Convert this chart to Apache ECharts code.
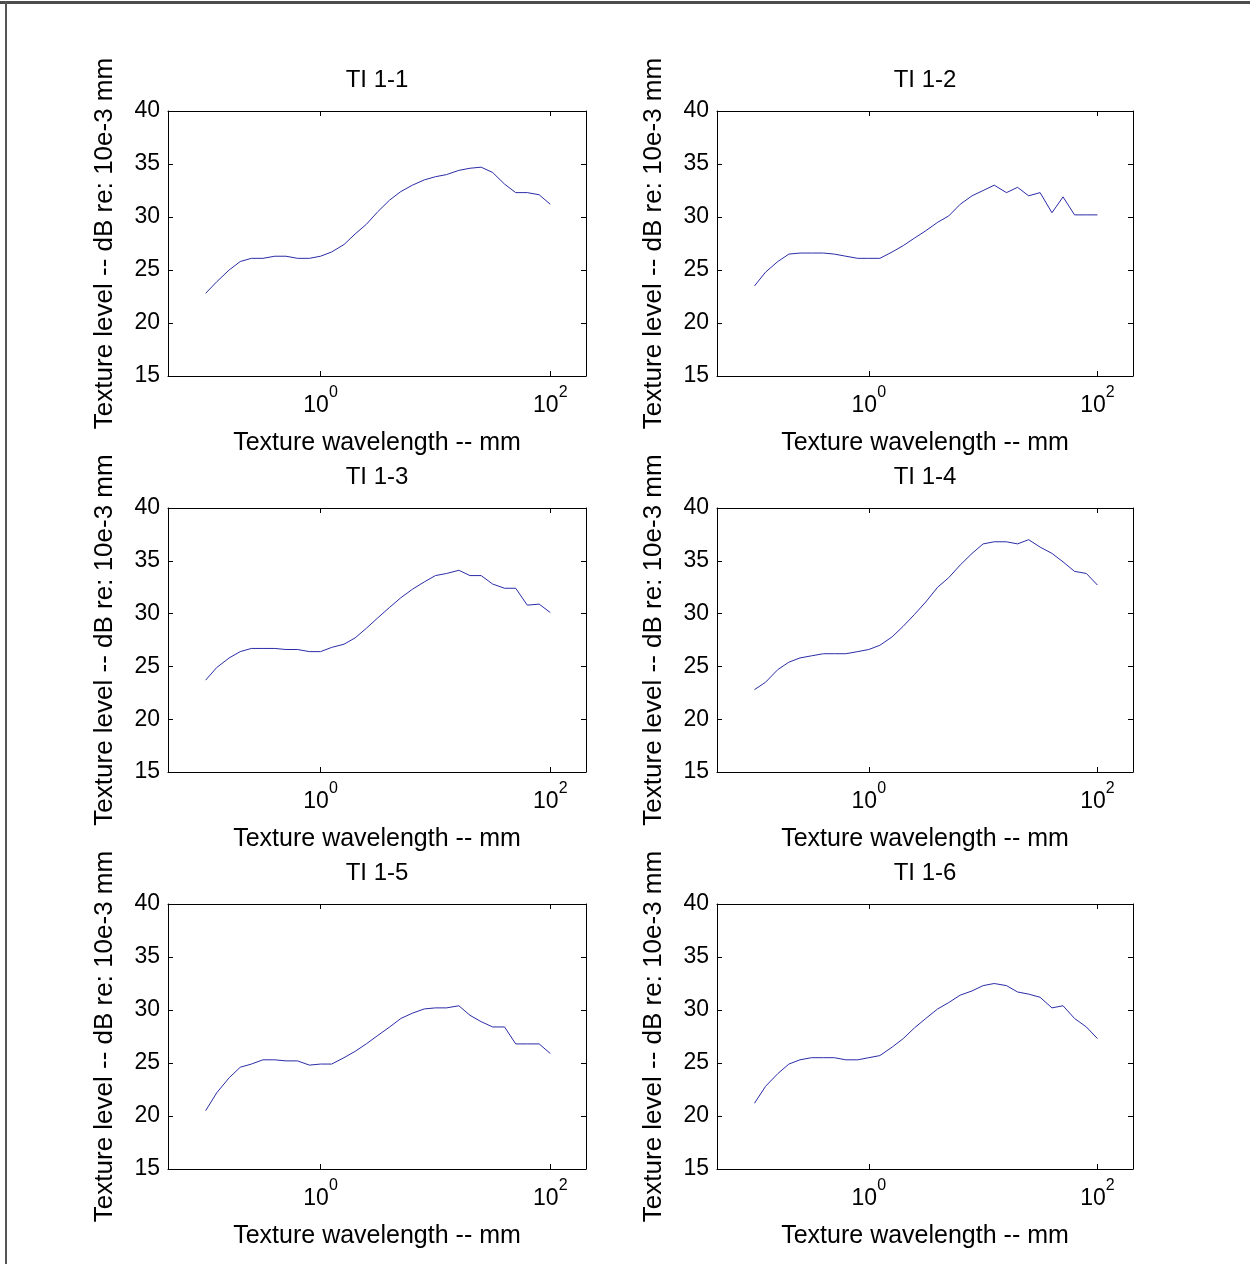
<!DOCTYPE html>
<html>
<head>
<meta charset="utf-8">
<style>
  html, body { margin: 0; padding: 0; background: #fff; }
  #chart { width: 1250px; height: 1264px; }
</style>
<script src="https://cdn.jsdelivr.net/npm/echarts@6/dist/echarts.min.js"></script>
</head>
<body>
<div id="chart"></div>
<script>
// Third-octave band texture wavelengths (mm)
const wavelengths = [0.1, 0.125, 0.16, 0.2, 0.25, 0.315, 0.4, 0.5, 0.63, 0.8,
  1, 1.25, 1.6, 2, 2.5, 3.15, 4, 5, 6.3, 8,
  10, 12.5, 16, 20, 25, 31.5, 40, 50, 63, 80, 100];

// Texture level spectra, dB re: 10e-3 mm
const ti11 = [22.8, 23.9, 25.0, 25.8, 26.1, 26.1, 26.3, 26.3, 26.1, 26.1,
  26.3, 26.7, 27.4, 28.4, 29.3, 30.5, 31.6, 32.4, 33.0, 33.5,
  33.8, 34.0, 34.4, 34.6, 34.7, 34.2, 33.1, 32.3, 32.3, 32.1, 31.2];
const ti12 = [23.5, 24.8, 25.8, 26.5, 26.6, 26.6, 26.6, 26.5, 26.3, 26.1,
  26.1, 26.1, 26.7, 27.3, 28.0, 28.7, 29.5, 30.1, 31.2, 32.0,
  32.5, 33.0, 32.3, 32.8, 32.0, 32.3, 30.4, 31.9, 30.2, 30.2, 30.2];
const ti13 = [23.7, 24.9, 25.8, 26.4, 26.7, 26.7, 26.7, 26.6, 26.6, 26.4,
  26.4, 26.8, 27.1, 27.7, 28.6, 29.6, 30.6, 31.5, 32.3, 33.0,
  33.6, 33.8, 34.1, 33.6, 33.6, 32.8, 32.4, 32.4, 30.8, 30.9, 30.1];
const ti14 = [22.8, 23.5, 24.7, 25.4, 25.8, 26.0, 26.2, 26.2, 26.2, 26.4,
  26.6, 27.0, 27.8, 28.8, 29.9, 31.1, 32.5, 33.4, 34.6, 35.7,
  36.6, 36.8, 36.8, 36.6, 37.0, 36.3, 35.7, 34.9, 34.0, 33.8, 32.7];
const ti15 = [20.5, 22.2, 23.6, 24.6, 24.9, 25.3, 25.3, 25.2, 25.2, 24.8,
  24.9, 24.9, 25.5, 26.1, 26.8, 27.6, 28.4, 29.2, 29.7, 30.1,
  30.2, 30.2, 30.4, 29.5, 28.9, 28.4, 28.4, 26.8, 26.8, 26.8, 25.9];
const ti16 = [21.2, 22.8, 24.0, 24.9, 25.3, 25.5, 25.5, 25.5, 25.3, 25.3,
  25.5, 25.7, 26.5, 27.3, 28.3, 29.2, 30.1, 30.7, 31.4, 31.8,
  32.3, 32.5, 32.3, 31.7, 31.5, 31.2, 30.2, 30.4, 29.2, 28.4, 27.3];

const panelTitles = ['TI 1-1', 'TI 1-2', 'TI 1-3', 'TI 1-4', 'TI 1-5', 'TI 1-6'];
const panelSeries = [ti11, ti12, ti13, ti14, ti15, ti16];

const yTicks = { min: 15, max: 40, interval: 5 };
const xLabelValues = [1, 100];
const xRange = { min: 0.047, max: 204.6 };

const xName = 'Texture wavelength -- mm';
const yName = 'Texture level -- dB re: 10e-3 mm';

// Panel frames: 3 rows x 2 columns
const colLeft = [168, 717];
const colWidth = [418, 416];
const rowTop = [111, 508, 904];
const rowHeight = [265, 264, 265];

const FONT = '"Liberation Sans", Arial, Helvetica, sans-serif';
const INK = '#000';

function expLabel(v) {
  const e = Math.round(Math.log10(v));
  return '{b|10}{s|' + e + '}';
}

const grids = [], xAxes = [], yAxes = [], series = [], titles = [];

panelSeries.forEach(function (vals, i) {
  const col = i % 2, row = Math.floor(i / 2);
  const left = colLeft[col], top = rowTop[row];
  const width = colWidth[col], height = rowHeight[row];
  grids.push({ left: left, top: top, width: width, height: height, containLabel: false });

  const lineStyle = { show: true, lineStyle: { color: INK, width: 1 } };
  const tickStyle = { show: true, inside: true, length: 5, lineStyle: { color: INK, width: 1 } };

  // bottom x axis with labels
  xAxes.push({
    type: 'log', logBase: 10, gridIndex: i, position: 'bottom',
    min: xRange.min, max: xRange.max,
    axisLine: lineStyle,
    axisTick: Object.assign({ customValues: xLabelValues }, tickStyle),
    minorTick: { show: false },
    splitLine: { show: false },
    axisLabel: {
      customValues: xLabelValues, margin: 9,
      formatter: expLabel,
      rich: {
        b: { fontFamily: FONT, fontSize: 23, color: INK, padding: [9, 0, 0, 0], verticalAlign: 'bottom' },
        s: { fontFamily: FONT, fontSize: 16, color: INK, verticalAlign: 'top' }
      }
    },
    name: xName, nameLocation: 'middle', nameGap: 55,
    nameTextStyle: { fontFamily: FONT, fontSize: 25, color: INK }
  });
  // top x axis: ticks only
  xAxes.push({
    type: 'log', logBase: 10, gridIndex: i, position: 'top',
    min: xRange.min, max: xRange.max,
    axisLine: lineStyle,
    axisTick: Object.assign({ customValues: xLabelValues }, tickStyle),
    axisLabel: { show: false },
    splitLine: { show: false }
  });
  // left y axis with labels
  yAxes.push({
    type: 'value', gridIndex: i, position: 'left',
    min: yTicks.min, max: yTicks.max, interval: yTicks.interval,
    axisLine: lineStyle, axisTick: tickStyle,
    splitLine: { show: false },
    axisLabel: { margin: 8, fontFamily: FONT, fontSize: 23, color: INK },
    name: yName, nameLocation: 'middle', nameRotate: 90, nameGap: 50,
    nameTextStyle: { fontFamily: FONT, fontSize: 26, color: INK }
  });
  // right y axis: ticks only
  yAxes.push({
    type: 'value', gridIndex: i, position: 'right',
    min: yTicks.min, max: yTicks.max, interval: yTicks.interval,
    axisLine: lineStyle, axisTick: tickStyle,
    splitLine: { show: false },
    axisLabel: { show: false }
  });

  series.push({
    type: 'line', name: panelTitles[i],
    xAxisIndex: 2 * i, yAxisIndex: 2 * i,
    data: wavelengths.map(function (w, k) { return [w, vals[k]]; }),
    showSymbol: false, symbol: 'none',
    lineStyle: { color: '#2b2ba8', width: 1 },
    emphasis: { disabled: true }
  });

  titles.push({
    text: panelTitles[i], padding: 0,
    left: left + width / 2, top: top - 43, textAlign: 'center',
    textStyle: { fontFamily: FONT, fontSize: 24, fontWeight: 'normal', color: INK }
  });
});

const chart = echarts.init(document.getElementById('chart'), null, { renderer: 'canvas' });
chart.setOption({
  animation: false,
  backgroundColor: '#fff',
  title: titles,
  grid: grids,
  xAxis: xAxes,
  yAxis: yAxes,
  series: series,
  graphic: [
    { type: 'rect', shape: { x: 0, y: 1, width: 1250, height: 3 }, style: { fill: '#4d4d4d' }, silent: true },
    { type: 'rect', shape: { x: 5, y: 1, width: 2, height: 1263 }, style: { fill: '#555' }, silent: true }
  ]
});
</script>
</body>
</html>
